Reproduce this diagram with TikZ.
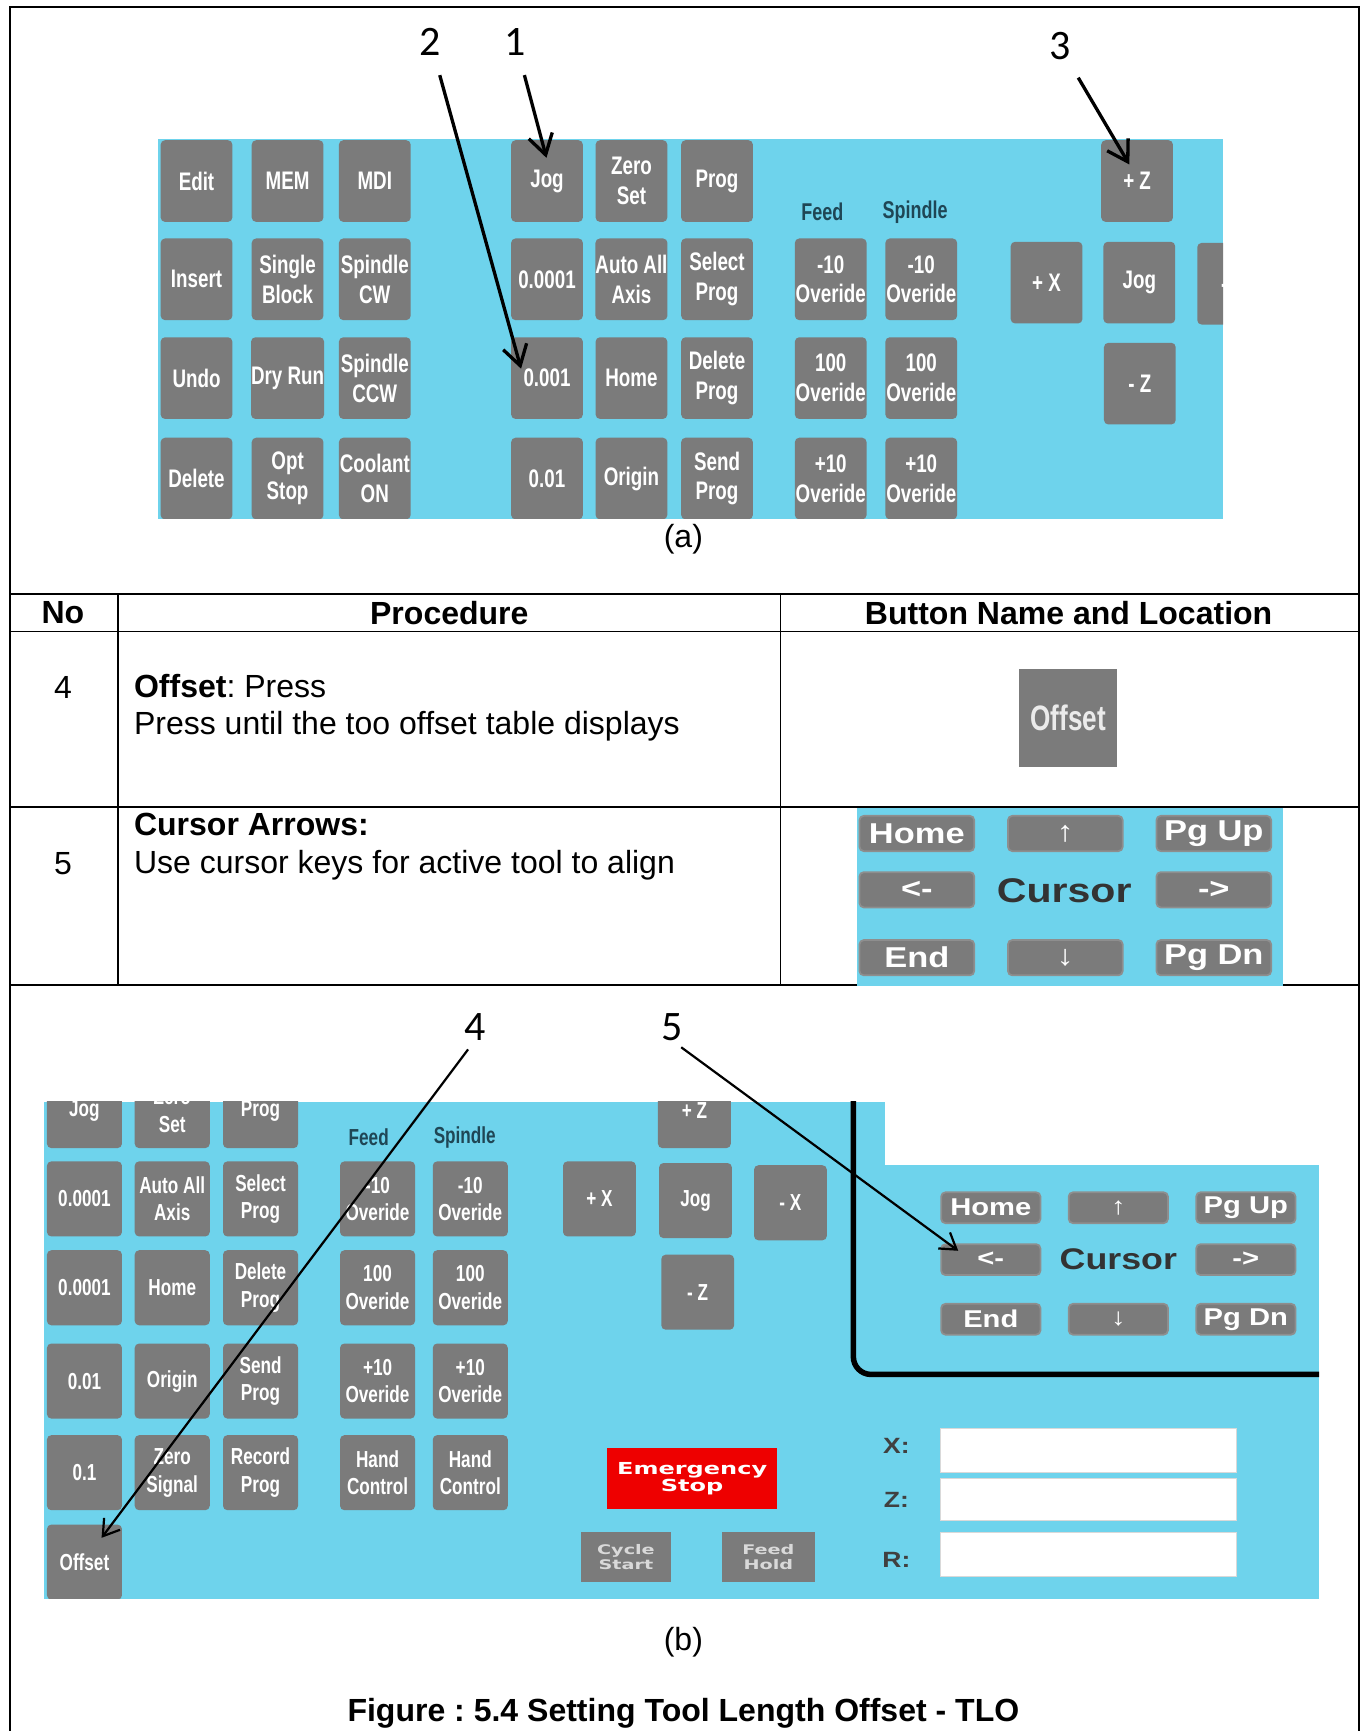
\documentclass[tikz,border=0pt]{standalone}
\usepackage{fontspec}
\setmainfont{Liberation Sans}
\newfontfamily\numfont{Carlito}
\newfontface\keyfont[FakeStretch=0.74]{Liberation Sans Bold}
\newfontface\widefont[FakeStretch=1.2]{Liberation Sans Bold}
\newfontface\flatfont[FakeStretch=1.45]{DejaVu Sans Bold}
\usepackage{tikz}
\usetikzlibrary{arrows.meta}
\definecolor{Panel}{HTML}{6ED3EC}
\definecolor{Key}{HTML}{7B7B7B}
\definecolor{KeyEdge}{HTML}{8E8E8E}
\definecolor{Ink}{HTML}{1F4655}
\definecolor{StopRed}{HTML}{EE0000}
\colorlet{panel}{Panel}
\colorlet{key}{Key}
\colorlet{keyedge}{KeyEdge}
\colorlet{ink}{Ink}
\colorlet{stopred}{StopRed}
\frenchspacing

\begin{document}
\begin{tikzpicture}[x=0.5pt, y=-0.5pt, every node/.style={inner sep=0pt},
  keya/.style={fill=key, rounded corners=2pt, minimum width=32.5pt, minimum height=37pt, text=white, align=center, font=\keyfont\fontsize{11.5}{13.5}\selectfont},
  keyb/.style={keya, minimum width=34pt, minimum height=34pt, font=\keyfont\fontsize{10.5}{12.5}\selectfont},
  curkey/.style={fill=key, draw=keyedge, line width=0.8pt, rounded corners=2pt, minimum width=52pt, minimum height=16pt, text=white, font=\widefont\fontsize{13}{13}\selectfont},
  curkeyb/.style={curkey, minimum width=45pt, minimum height=14pt, font=\widefont\fontsize{11}{11}\selectfont},
  tag/.style={text=ink, font=\keyfont\fontsize{11}{11}\selectfont},
  callout/.style={font=\numfont\fontsize{19}{19}\selectfont},
  pointer/.style={-{Straight Barb[length=9pt,width=11pt]}, line width=1.5pt, shorten <=9pt},
  pointerb/.style={-{Straight Barb[length=7pt,width=9pt]}, line width=1pt, shorten <=5pt},
  cell/.style={align=left, font=\fontsize{14.5}{17}\selectfont},
  head/.style={font=\bfseries\fontsize{14.5}{17}\selectfont},
  rule/.style={line width=0.8pt},
  field/.style={fill=white, draw=black!15, line width=0.4pt, minimum width=134pt, minimum height=20pt},
  axis/.style={text=black!75, font=\widefont\fontsize{10}{10}\selectfont}]
\useasboundingbox (0,0) rectangle (1236,1568);

% table frame
\draw[rule, line width=1pt] (9,1568) -- (9,6) -- (1231,6) -- (1231,1568);
\draw[rule] (9,538) -- (1231,538);
\draw[rule] (9,572) -- (1231,572);
\draw[rule] (9,731) -- (1231,731);
\draw[rule] (9,892) -- (1231,892);
\draw[rule] (107,538) -- (107,892);
\draw[rule] (707,538) -- (707,892);

% (a) control panel
\begin{scope}
\clip (143,126) rectangle (1108,470);
\fill[panel] (143,126) rectangle (1108,470);
\foreach \cx/\ta/\tb/\tc/\td [count=\c] in {178/Edit/Insert/Undo/Delete, 260.5/MEM/{Single\\Block}/Dry Run/{Opt\\Stop}, 339.5/MDI/{Spindle\\CW}/{Spindle\\CCW}/{Coolant\\ON}, 495.5/Jog/0.0001/0.001/0.01, 572/{Zero\\Set}/{Auto All\\Axis}/Home/Origin, 649.5/Prog/{Select\\Prog}/{Delete\\Prog}/{Send\\Prog}}{
  \node[keya] (a\c-1) at (\cx,164) {\ta};
  \node[keya] (a\c-2) at (\cx,253) {\tb};
  \node[keya] (a\c-3) at (\cx,342.5) {\tc};
  \node[keya] (a\c-4) at (\cx,433.5) {\td};
}
\foreach \cx [count=\c from 7] in {752.5,834.5}{
  \node[keya] (a\c-2) at (\cx,253) {-10\\Overide};
  \node[keya] (a\c-3) at (\cx,342.5) {100\\Overide};
  \node[keya] (a\c-4) at (\cx,433.5) {+10\\Overide};
}
\node[tag] (afeed) at (745,192) {Feed};
\node[tag] (aspin) at (829,192) {Spindle};
\node[keya] (apz) at (1030,164) {+ Z};
\node[keya] (apx) at (948,256) {+ X};
\node[keya] (ajog) at (1032,256) {Jog};
\node[keya] (amz) at (1032.5,347.5) {- Z};
\node[keya] (amx) at (1117,257) {- X};
\end{scope}

\node[callout] (call2) at (390,38) {2};
\node[callout] (call1) at (467,38) {1};
\node[callout] (call3) at (960,42) {3};
\coordinate (t1) at (495,143);
\coordinate (t2) at (472,334);
\coordinate (t3) at (1023,149);
\draw[pointer] (call1) -- (t1);
\draw[pointer] (call2) -- (t2);
\draw[pointer] (call3) -- (t3);
\node[cell] (capa) at (619,488) {(a)};

% table rows
\node[head] (hno) at (57,555) {No};
\node[head] (hproc) at (407,555) {Procedure};
\node[head] (hbtn) at (968,555) {Button Name and Location};

\node[cell] (no4) at (57,623) {4};
\node[cell, anchor=west] (proc4) at (121,641) {\textbf{Offset}: Press\\Press until the too offset table displays};
\node[fill=key, minimum width=44.5pt, minimum height=44.5pt, text=white!92!black, font=\keyfont\fontsize{16}{16}\selectfont] (offbtn) at (967.5,650.5) {Offset};

\node[cell] (no5) at (57,782) {5};
\node[cell, anchor=west] (proc5) at (121,767) {\textbf{Cursor Arrows:}\\Use cursor keys for active tool to align};
\fill[panel] (776,731.5) rectangle (1162,893);
\node[curkey] (rhome) at (830.5,755) {Home};
\node[curkey] (rup) at (965,755) {↑};
\node[curkey] (rpgup) at (1099.5,755) {Pg Up};
\node[curkey] (rleft) at (830.5,806) {<-};
\node[text=black!80, font=\widefont\fontsize{15.5}{15.5}\selectfont] (rcur) at (964,807) {Cursor};
\node[curkey] (rright) at (1099.5,806) {->};
\node[curkey] (rend) at (830.5,867.5) {End};
\node[curkey] (rdown) at (965,867.5) {↓};
\node[curkey] (rpgdn) at (1099.5,867.5) {Pg Dn};

% (b) control panel
\begin{scope}
\clip (40,998) rectangle (1195,1448);
\fill[panel] (40,998) rectangle (1195,1448);
\fill[white] (802,998) rectangle (1195,1055);
\draw[line width=2.5pt, rounded corners=8pt] (773,990) -- (773,1245) -- (1205,1245);
\foreach \cx/\ta/\tb/\tc/\td/\te [count=\c] in {76.5/Jog/0.0001/0.0001/0.01/0.1, 156/{Zero\\Set}/{Auto All\\Axis}/Home/Origin/{Zero\\Signal}, 236/Prog/{Select\\Prog}/{Delete\\Prog}/{Send\\Prog}/{Record\\Prog}}{
  \node[keyb] (b\c-0) at (\cx,1006) {\ta};
  \node[keyb] (b\c-1) at (\cx,1086) {\tb};
  \node[keyb] (b\c-2) at (\cx,1166.5) {\tc};
  \node[keyb] (b\c-3) at (\cx,1251) {\td};
  \node[keyb] (b\c-4) at (\cx,1334) {\te};
}
\node[keyb] (boff) at (76.5,1415) {Offset};
\foreach \cx [count=\c from 7] in {342,426}{
  \node[keyb] (b\c-1) at (\cx,1086) {-10\\Overide};
  \node[keyb] (b\c-2) at (\cx,1166.5) {100\\Overide};
  \node[keyb] (b\c-3) at (\cx,1251) {+10\\Overide};
  \node[keyb] (b\c-4) at (\cx,1334) {Hand\\Control};
}
\node[tag, font=\keyfont\fontsize{10.5}{10.5}\selectfont] (bfeed) at (334,1030) {Feed};
\node[tag, font=\keyfont\fontsize{10.5}{10.5}\selectfont] (bspin) at (421,1030) {Spindle};
\node[keyb, minimum width=33pt] (bpz) at (629,1006) {+ Z};
\node[keyb, minimum width=33pt] (bpx) at (543,1086) {+ X};
\node[keyb, minimum width=33pt] (bjog) at (630,1087.5) {Jog};
\node[keyb, minimum width=33pt] (bmx) at (716,1089.5) {- X};
\node[keyb, minimum width=33pt] (bmz) at (632,1170.5) {- Z};
\node[curkeyb] (bhome) at (897.5,1094) {Home};
\node[curkeyb] (bup) at (1013,1094) {↑};
\node[curkeyb] (bpgup) at (1128.5,1094) {Pg Up};
\node[curkeyb] (bleft) at (897.5,1141) {<-};
\node[text=black!80, font=\widefont\fontsize{13.5}{13.5}\selectfont] (bcur) at (1013,1141) {Cursor};
\node[curkeyb] (bright) at (1128.5,1141) {->};
\node[curkeyb] (bend) at (897.5,1195) {End};
\node[curkeyb] (bdown) at (1013,1195) {↓};
\node[curkeyb] (bpgdn) at (1128.5,1195) {Pg Dn};
\node[fill=stopred, minimum width=77pt, minimum height=27.5pt, text=white, align=center, font=\flatfont\fontsize{7.5}{8}\selectfont] (estop) at (627,1339.5) {Emergency\\Stop};
\node[fill=key, minimum width=41pt, minimum height=22.5pt, text=white!85!black, align=center, font=\flatfont\fontsize{6}{7}\selectfont] (cstart) at (567,1410.5) {Cycle\\Start};
\node[fill=key, minimum width=42pt, minimum height=22.5pt, text=white!85!black, align=center, font=\flatfont\fontsize{6}{7}\selectfont] (fhold) at (696,1410.5) {Feed\\Hold};
\node[axis] (lx) at (812,1310) {X:};
\node[axis] (lz) at (812,1359) {Z:};
\node[axis] (lr) at (812,1413) {R:};
\node[field] (fx) at (986,1314) {};
\node[field, minimum height=19pt] (fz) at (986,1358) {};
\node[field] (fr) at (986,1408) {};
\end{scope}

\node[callout] (call4) at (430,930) {4};
\node[callout] (call5) at (609,930) {5};
\coordinate (t4) at (92,1393);
\coordinate (t5) at (868,1133);
\draw[pointerb] (call4.south) -- (t4);
\draw[pointerb] (call5.south) -- (t5);

\node[cell] (capb) at (619,1488) {(b)};
\node[head] (fig) at (619,1552) {Figure : 5.4 Setting Tool Length Offset - TLO};
\end{tikzpicture}
\end{document}
